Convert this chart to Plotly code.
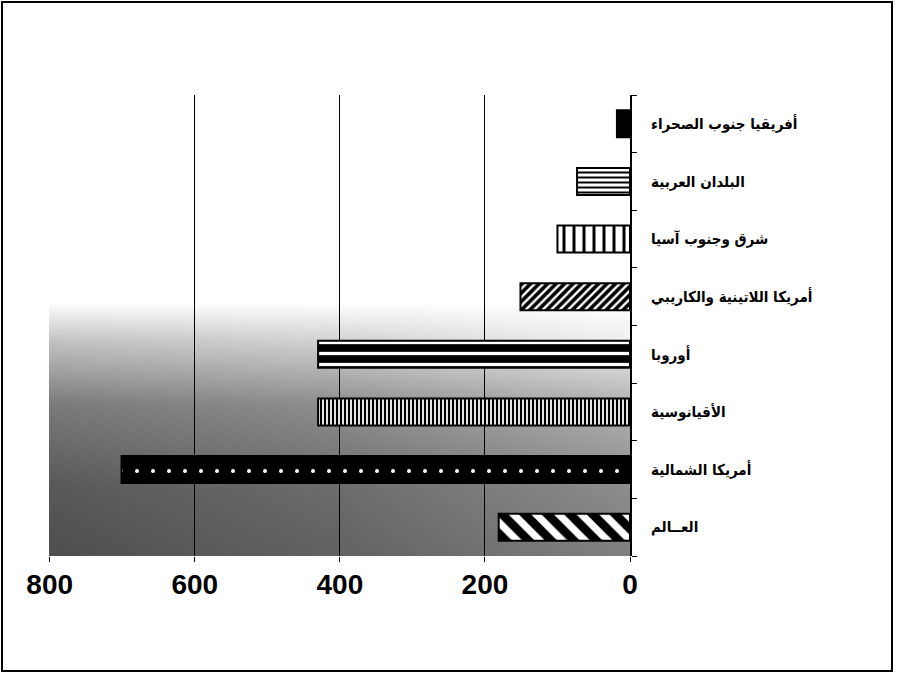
import plotly.graph_objects as go

# ---------------- data ----------------
categories = [
    "العــالم",
    "أمريكا الشمالية",
    "الأقيانوسية",
    "أوروبا",
    "أمريكا اللاتينية والكاريبي",
    "شرق وجنوب آسيا",
    "البلدان العربية",
    "أفريقيا جنوب الصحراء",
]
values = [181, 701, 430, 430, 151, 100, 73, 18]
x_ticks = [0, 200, 400, 600, 800]

# bar styles (per category, same order)
pattern_shapes = ["\\", ".", "|", "-", "/", "|", "-", ""]
pattern_fg = ["white", "white", "white", "white", "black", "black", "black", "black"]
bar_bg = ["black", "black", "black", "black", "white", "white", "white", "black"]
pattern_size = [16, 16, 4, 11, 6, 10, 5, 8]
pattern_solidity = [0.45, 0.05, 0.45, 0.3, 0.6, 0.3, 0.4, 0.3]

# background gradient (gray levels, hand-picked), rows bottom -> top
grad_x = [0.0, 0.5, 1.0]
grad_y = [0.0, 0.15, 0.33, 0.47, 0.55, 1.0]
grad_z = [
    [78, 98, 128],
    [88, 108, 140],
    [122, 142, 178],
    [196, 212, 240],
    [255, 255, 255],
    [255, 255, 255],
]

W, H = 898, 673
ML, MR, MT, MB = 49, 268, 95, 117

fig = go.Figure()

# gradient background on its own (lower) subplot
fig.add_trace(go.Heatmap(
    x=grad_x, y=grad_y, z=grad_z,
    zmin=0, zmax=255, zsmooth="best",
    colorscale=[[0, "black"], [1, "white"]],
    showscale=False, hoverinfo="skip",
    xaxis="x", yaxis="y",
))

for i, cat in enumerate(categories):
    fig.add_trace(go.Bar(
        x=[values[i]], y=[cat], orientation="h",
        width=0.47,
        marker=dict(
            color=bar_bg[i],
            line=dict(color="black", width=2),
            pattern=dict(
                shape=pattern_shapes[i],
                fgcolor=pattern_fg[i],
                fgopacity=1,
                size=pattern_size[i],
                solidity=pattern_solidity[i],
                fillmode="overlay",
            ),
        ),
        xaxis="x2", yaxis="y2",
        hoverinfo="skip",
    ))

# outer frame (paper coords computed from pixel positions)
pw = W - ML - MR
ph = H - MT - MB
def px_x(px):
    return (px - ML) / pw
def px_y(py):
    return (H - MB - py) / ph

fig.add_shape(type="rect", xref="paper", yref="paper",
              x0=px_x(2), x1=px_x(892), y0=px_y(671), y1=px_y(2),
              line=dict(color="black", width=2), layer="above")

fig.update_layout(
    width=W, height=H,
    margin=dict(l=ML, r=MR, t=MT, b=MB, pad=0),
    paper_bgcolor="white",
    plot_bgcolor="rgba(0,0,0,0)",
    showlegend=False,
    barmode="overlay",
    font=dict(family="Arial, Liberation Sans, DejaVu Sans", color="black"),
    xaxis=dict(domain=[0, 1], range=[0, 1], visible=False, fixedrange=True),
    yaxis=dict(domain=[0, 1], range=[0, 1], visible=False, fixedrange=True),
    xaxis2=dict(
        domain=[0, 1], anchor="y2",
        range=[801, 0],
        tickvals=x_ticks,
        ticks="outside", ticklen=5, tickcolor="black", tickwidth=1,
        showgrid=True, gridcolor="black", gridwidth=1,
        showline=False, zeroline=False,
        tickfont=dict(family="Liberation Sans, Arial", size=28, color="black", weight="bold"),
        ticklabelstandoff=-2,
    ),
    yaxis2=dict(
        domain=[0, 1], anchor="x2",
        type="category",
        categoryorder="array", categoryarray=categories,
        range=[-0.5, len(categories) - 0.5],
        side="right",
        tickson="boundaries",
        ticks="outside", ticklen=5, tickcolor="black",
        showgrid=False, showline=True, linecolor="black", linewidth=2,
        zeroline=False,
        tickfont=dict(family="DejaVu Sans Condensed, DejaVu Sans", size=15, color="black", weight="bold"),
        ticklabelstandoff=16,
    ),
)

fig.write_html("out.html", config={"displayModeBar": False},
               post_script="document.body.style.margin='0';")
